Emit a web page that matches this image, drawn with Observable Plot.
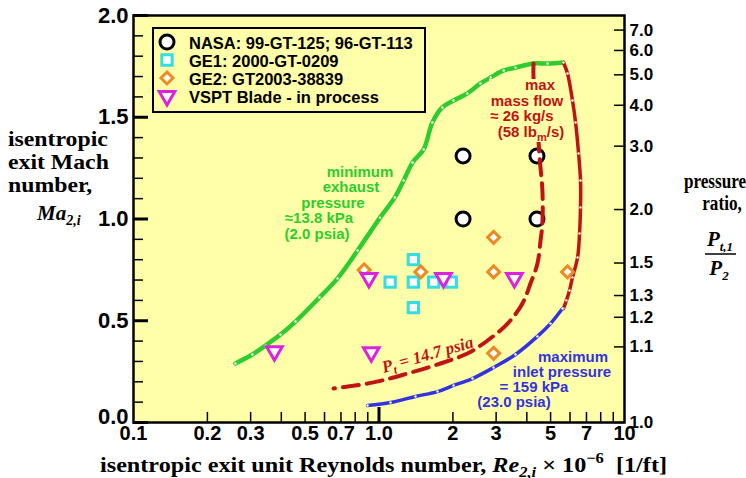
<!DOCTYPE html>
<html><head><meta charset="utf-8">
<script src="https://cdn.jsdelivr.net/npm/d3@7"></script>
<script src="https://cdn.jsdelivr.net/npm/@observablehq/plot@0.6"></script>
<style>body{margin:0;background:#fff;}</style>
</head><body><div id="chart"></div>
<script>
// ---------- data ----------
const minExhaustRe = [0.26,0.305,0.345,0.397,0.457,0.572,0.678,0.818,1.01,1.16,1.26,1.37,1.52,1.65,1.81,2.01,2.29,2.59,2.85,3.22,3.60,4.26,4.86,5.64];
const minExhaustMa = [0.29,0.334,0.378,0.432,0.496,0.614,0.708,0.845,1.007,1.106,1.189,1.278,1.342,1.474,1.548,1.582,1.617,1.666,1.695,1.730,1.744,1.764,1.764,1.769];
const maxFlowRe = [5.64,5.86,6.14,6.32,6.50,6.62,6.62,6.56,6.44,6.14,5.97,5.80,5.64];
const maxFlowMa = [1.769,1.715,1.582,1.474,1.322,1.189,1.057,0.929,0.811,0.713,0.649,0.600,0.560];
const atmInletRe = [4.26,4.26,4.40,4.51,4.63,4.63,4.55,4.42,4.14,3.84,3.34,2.77,2.29,1.78,1.31,0.95,0.653];
const atmInletMa = [1.764,1.695,1.50,1.302,1.140,0.978,0.894,0.781,0.683,0.585,0.486,0.403,0.339,0.290,0.241,0.197,0.167];
const maxInletRe = [0.898,1.114,1.408,1.731,2.012,2.404,2.927,3.597,4.42,4.995,5.59];
const maxInletMa = [0.0835,0.098,0.128,0.152,0.182,0.216,0.270,0.334,0.423,0.486,0.560];

const nasaRe = [2.2,4.4,2.2,4.4];
const nasaMa = [1.31,1.31,1.0,1.0];
const ge1Re = [1.11,1.38,1.38,1.38,1.67,1.97];
const ge1Ma = [0.69,0.80,0.69,0.565,0.69,0.69];
const ge2Re = [0.87,1.48,2.93,2.93,5.86,2.93];
const ge2Ma = [0.75,0.74,0.91,0.74,0.74,0.34];
const vsptRe = [0.375,0.91,0.93,1.83,3.56];
const vsptMa = [0.35,0.71,0.345,0.71,0.71];

const legendLabels = ["NASA: 99-GT-125; 96-GT-113","GE1: 2000-GT-0209","GE2: GT2003-38839","VSPT Blade - in process"];
const yMajorTicks = [0,0.5,1.0,1.5,2.0];
const yMinorTicks = [0.1,0.2,0.3,0.4,0.6,0.7,0.8,0.9,1.1,1.2,1.3,1.4,1.6,1.7,1.8,1.9];
const xLabelValues = [0.1,0.2,0.3,0.5,0.7,1,2,3,5,7,10];
const xLabelTexts = ["0.1","0.2","0.3","0.5","0.7","1.0","2","3","5","7","10"];
const xMinorTicks = [0.2,0.3,0.4,0.5,0.6,0.7,0.8,0.9,2,3,4,5,6,7,8,9];
const xMajorTicks = [1];
const prTicks = [1.0,1.1,1.2,1.3,1.5,2.0,3.0,4.0,5.0,6.0,7.0];

// ---------- styling ----------
const W = 746, H = 478, ML = 133, MR = 122, MT = 15, MB = 56;
const FW = W - ML - MR, FH = H - MT - MB;
const BG = "#ffffaa";
const GREEN = "#2ecc2e", RED = "#c01414", BLUE = "#3333dd";
const CYAN = "#33dde0", ORANGE = "#ee8a22", MAGENTA = "#dd22dd";
const SANS = "Liberation Sans, Arial, sans-serif";
const SERIF = "Liberation Serif, Times New Roman, serif";

// pressure ratio -> isentropic Mach number (gamma = 1.4)
const machOf = pr => Math.sqrt((Math.pow(pr, 0.4 / 1.4) - 1) / 0.2);

const zipXY = (xs, ys) => xs.map((x, i) => ({x, y: ys[i]}));
const minExhaust = zipXY(minExhaustRe, minExhaustMa);
const maxFlow = zipXY(maxFlowRe, maxFlowMa);
const atmInlet = zipXY(atmInletRe, atmInletMa);
const maxInlet = zipXY(maxInletRe, maxInletMa);
const nasa = zipXY(nasaRe, nasaMa);
const ge1 = zipXY(ge1Re, ge1Ma);
const ge2 = zipXY(ge2Re, ge2Ma);
const vspt = zipXY(vsptRe, vsptMa);

const triDown = {draw(ctx, size) {
  const y = Math.sqrt(size / (3 * Math.sqrt(3)));
  ctx.moveTo(0, 2 * y);
  ctx.lineTo(-Math.sqrt(3) * y, -y);
  ctx.lineTo(Math.sqrt(3) * y, -y);
  ctx.closePath();
}};

const plot = Plot.plot({
  width: W, height: H,
  marginLeft: ML, marginRight: MR, marginTop: MT, marginBottom: MB,
  x: {type: "log", domain: [0.1, 10], axis: null},
  y: {domain: [0, 2], axis: null},
  style: {fontFamily: SANS, background: "white", overflow: "visible"},
  marks: [
    Plot.frame({fill: BG}),
    // inward ticks
    Plot.tickY(yMinorTicks, {y: d => d, insetRight: FW - 10, stroke: "#000", strokeWidth: 1.5}),
    Plot.tickY(yMajorTicks, {y: d => d, insetRight: FW - 15, stroke: "#000", strokeWidth: 3}),
    Plot.tickX(xMinorTicks, {x: d => d, insetTop: FH - 10, stroke: "#000", strokeWidth: 1.5}),
    Plot.tickX(xMajorTicks, {x: d => d, insetTop: FH - 15, stroke: "#000", strokeWidth: 3}),
    Plot.tickY(prTicks, {y: d => machOf(d), insetLeft: FW - 10, stroke: "#000", strokeWidth: 1.5}),
    // curves
    Plot.line(minExhaust, {x: "x", y: "y", stroke: GREEN, strokeWidth: 4.5, curve: "catmull-rom"}),
    Plot.dot(minExhaust, {x: "x", y: "y", r: 1.2, fill: "white"}),
    Plot.line(maxFlow, {x: "x", y: "y", stroke: RED, strokeWidth: 3.5, curve: "catmull-rom"}),
    Plot.dot(maxFlow, {x: "x", y: "y", r: 1.2, fill: "white"}),
    Plot.line(maxInlet, {x: "x", y: "y", stroke: BLUE, strokeWidth: 3.5, curve: "catmull-rom"}),
    Plot.dot(maxInlet, {x: "x", y: "y", r: 1.2, fill: "white"}),
    // experiments
    Plot.dot(nasa, {x: "x", y: "y", r: 7, symbol: "circle", stroke: "#000", strokeWidth: 3, fill: "white"}),
    Plot.dot(ge1, {x: "x", y: "y", r: 5.8, symbol: "square", stroke: CYAN, strokeWidth: 3, fill: "white"}),
    Plot.dot(ge2, {x: "x", y: "y", r: 5.4, symbol: "diamond2", stroke: ORANGE, strokeWidth: 3, fill: "white"}),
    Plot.dot(vspt, {x: "x", y: "y", r: 5.8, symbol: triDown, stroke: MAGENTA, strokeWidth: 3, fill: "white"}),
    Plot.line(atmInlet, {x: "x", y: "y", stroke: RED, strokeWidth: 4, strokeDasharray: "16,8", curve: "catmull-rom"}),
    Plot.frame({stroke: "#000", strokeWidth: 2.5}),
    // tick labels
    Plot.text(yMajorTicks, {y: d => d, text: d => d.toFixed(1), frameAnchor: "left", textAnchor: "end", dx: -5, fontSize: 22, fontWeight: "bold"}),
    Plot.text(xLabelValues, {x: d => d, text: (d, i) => xLabelTexts[i], frameAnchor: "bottom", dy: 17, fontSize: 20, fontWeight: "bold"}),
    Plot.text(prTicks, {y: d => machOf(d), text: d => d.toFixed(1), frameAnchor: "right", textAnchor: "start", dx: 5, fontSize: 17, fontWeight: "bold"})
  ]
});
document.getElementById("chart").appendChild(plot);

// nudge the "0.0" label up a little, as in the original
d3.select(plot).selectAll("text").filter(function() { return this.textContent === "0.0"; })
  .attr("dy", "-0.25em");

// ---------- legend, annotations & axis titles ----------
const svg = d3.select(plot);
const g = svg.append("g").attr("text-anchor", "start");

// legend
g.append("rect").attr("x", 153).attr("y", 28).attr("width", 272).attr("height", 84)
  .attr("fill", BG).attr("stroke", "#000").attr("stroke-width", 2);
const legSyms = [
  {sym: d3.symbolCircle, r: 7, color: "#000"},
  {sym: d3.symbolSquare, r: 5.8, color: CYAN},
  {sym: d3.symbolDiamond2, r: 5.4, color: ORANGE},
  {sym: triDown, r: 5.8, color: MAGENTA}
];
const legY = [43, 61, 79, 97];
legendLabels.forEach((lab, i) => {
  const s = legSyms[i];
  g.append("path").attr("transform", `translate(167,${legY[i] - 1})`)
    .attr("d", d3.symbol(s.sym, Math.PI * s.r * s.r)())
    .attr("fill", "white").attr("stroke", s.color).attr("stroke-width", 3);
  g.append("text").attr("x", 189).attr("y", legY[i] + 6).attr("text-anchor", "start").text(lab)
    .attr("font-family", SANS).attr("font-weight", "bold").attr("font-size", 16.5);
});

function lines(arr, color) {
  arr.forEach(([t, x, y]) => {
    g.append("text").attr("x", x).attr("y", y).attr("text-anchor", "middle")
      .attr("font-family", SANS).attr("font-weight", "bold").attr("font-size", 15)
      .attr("fill", color).text(t);
  });
}
lines([["minimum", 360, 177], ["exhaust", 351, 192], ["pressure", 333, 208], ["\u224813.8 kPa", 319, 223], ["(2.0 psia)", 317, 239]], GREEN);
lines([["maximum", 573, 362], ["inlet pressure", 562, 377], ["= 159 kPa", 534, 392], ["(23.0 psia)", 514, 407]], BLUE);
// the mass-flow label sits on a plain background that hides the dashed line behind it
g.append("rect").attr("x", 489).attr("y", 79).attr("width", 76).attr("height", 63).attr("fill", BG);
lines([["max", 540, 90], ["mass flow", 527, 106], ["\u2248 26 kg/s", 522, 121]], RED);
{
  const t = g.append("text").attr("x", 531).attr("y", 137).attr("text-anchor", "middle")
    .attr("font-family", SANS).attr("font-weight", "bold").attr("font-size", 15).attr("fill", RED);
  t.append("tspan").text("(58 lb");
  t.append("tspan").attr("font-size", 11).attr("dy", 4).text("m");
  t.append("tspan").attr("dy", -4).text("/s)");
}
// P_t = 14.7 psia
{
  const t = g.append("text").attr("transform", "translate(429,360) rotate(-16)").attr("text-anchor", "middle")
    .attr("font-family", SERIF).attr("font-style", "italic").attr("font-weight", "bold")
    .attr("font-size", 17).attr("fill", RED);
  t.append("tspan").text("P");
  t.append("tspan").attr("font-size", 12).attr("dy", 4).text("t");
  t.append("tspan").attr("dy", -4).text(" = 14.7 psia");
}

// titles
const serifText = (x, y, anchor, size, sx = 1) => g.append("text")
  .attr("transform", `translate(${x},${y}) scale(${sx},1)`).attr("text-anchor", anchor)
  .attr("font-family", SERIF).attr("font-weight", "bold").attr("font-size", size).attr("fill", "#000");
// left title
serifText(8, 146, "start", 22, 1.08).text("isentropic");
serifText(8, 169, "start", 22, 1.08).text("exit Mach");
serifText(8, 192, "start", 22, 1.08).text("number,");
{
  const t = serifText(37, 220, "start", 21).attr("font-style", "italic");
  t.append("tspan").text("Ma");
  t.append("tspan").attr("font-size", 14).attr("dy", 5).text("2,i");
}
// right title
serifText(715, 188, "middle", 22, 0.78).text("pressure");
serifText(722, 210, "middle", 22, 0.78).text("ratio,");
{
  const t = serifText(720, 246, "middle", 21).attr("font-style", "italic");
  t.append("tspan").text("P");
  t.append("tspan").attr("font-size", 13).attr("dy", 5).text("t,1");
  g.append("line").attr("x1", 705).attr("x2", 736).attr("y1", 254).attr("y2", 254)
    .attr("stroke", "#000").attr("stroke-width", 1.5);
  const b = serifText(719, 275, "middle", 21).attr("font-style", "italic");
  b.append("tspan").text("P");
  b.append("tspan").attr("font-size", 13).attr("dy", 5).text("2");
}
// bottom title
{
  const t = serifText(100, 472, "start", 22, 1.1);
  t.append("tspan").text("isentropic exit unit Reynolds number, ");
  t.append("tspan").attr("font-style", "italic").text("Re");
  t.append("tspan").attr("font-style", "italic").attr("font-size", 15).attr("dy", 5).text("2,i");
  t.append("tspan").attr("dy", -5).text(" \u00d7 10");
  t.append("tspan").attr("font-size", 15).attr("dy", -9).text("\u22126");
  t.append("tspan").attr("dy", 9).text("  [1/ft]");
}
</script></body></html>
